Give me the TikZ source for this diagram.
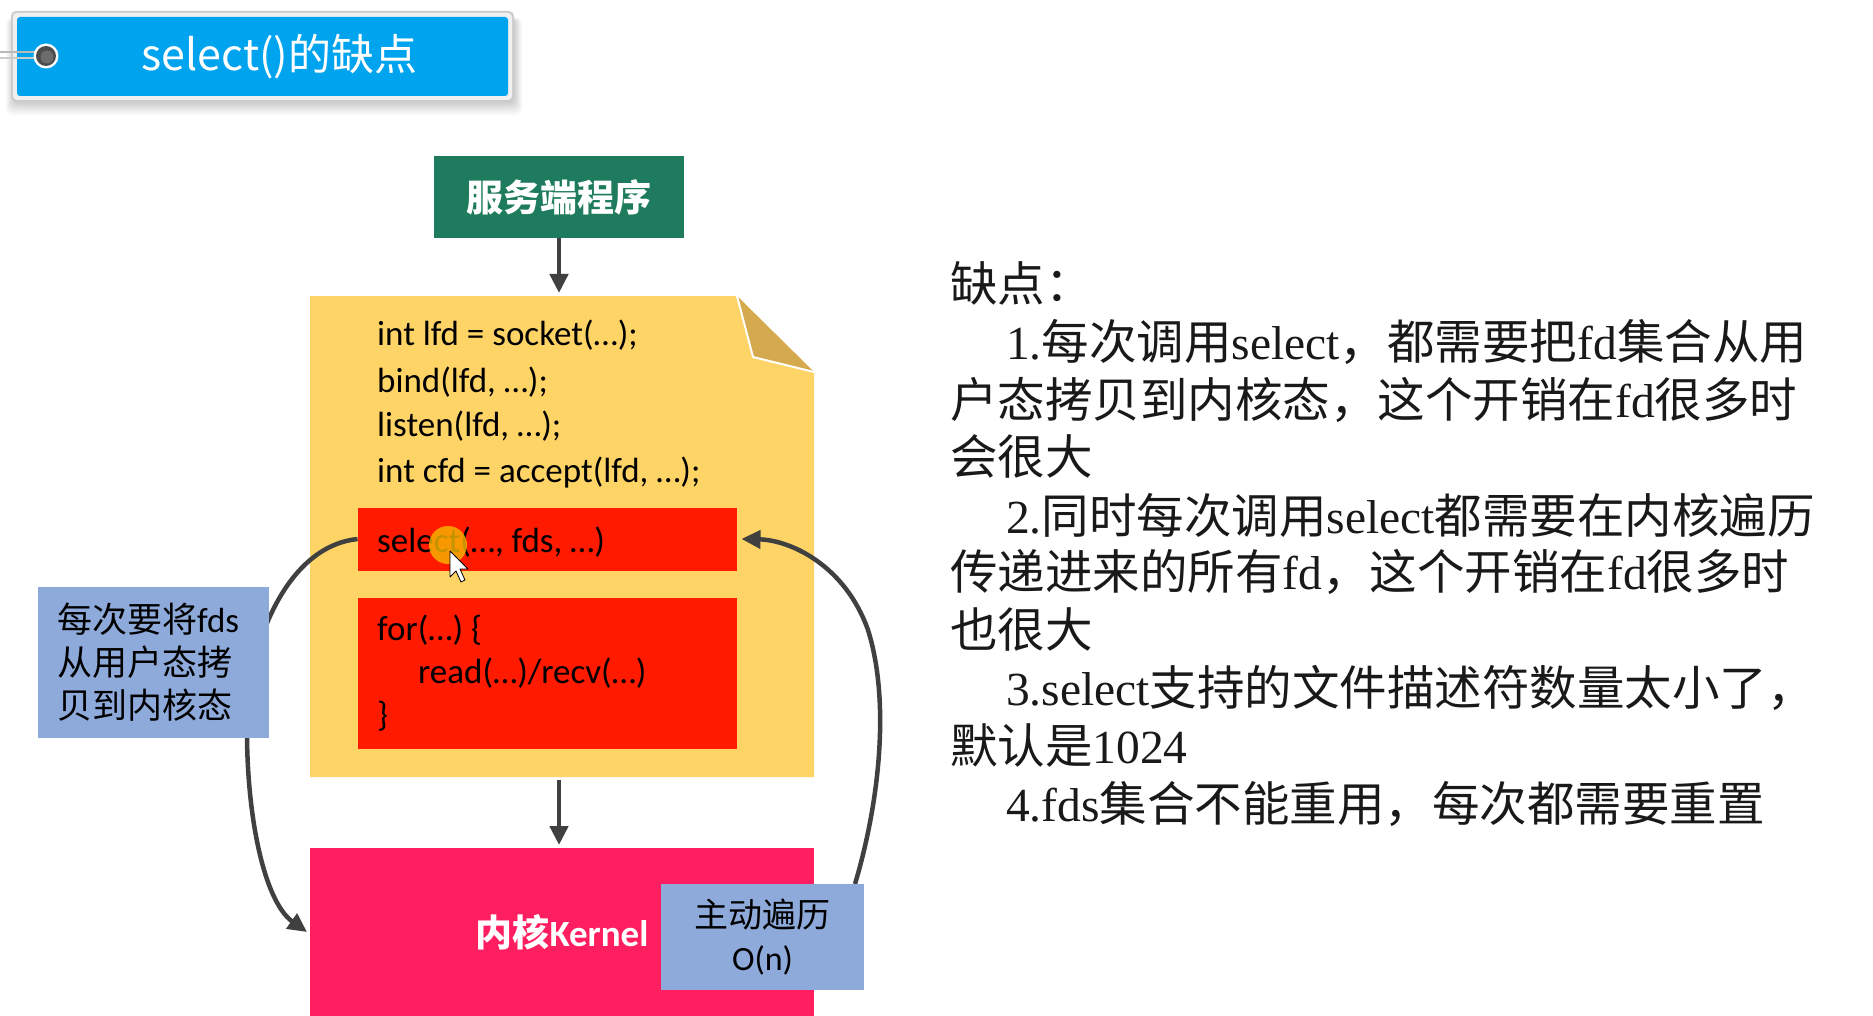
\documentclass[tikz,border=0pt]{standalone}
\usepackage{fontspec}
\setmainfont{Liberation Serif}
\newfontfamily\zh{Noto Sans CJK SC}
\newfontfamily\calib{Carlito}
\usetikzlibrary{arrows.meta}
\definecolor{tblue}{HTML}{00A3EE}
\definecolor{sgreen}{HTML}{1E7B5E}
\definecolor{dyellow}{HTML}{FFD466}
\definecolor{dfold}{HTML}{D5A94E}
\definecolor{cred}{HTML}{FF1A00}
\definecolor{kpink}{HTML}{FF1F60}
\definecolor{lblue}{HTML}{8EAADB}
\definecolor{arr}{HTML}{404040}
\definecolor{hilite}{HTML}{F5B800}
\begin{document}
\begin{tikzpicture}[x=1pt,y=-1pt,
  box/.style={rectangle,inner sep=0pt,outer sep=0pt},
  code/.style={anchor=west,inner sep=0pt,font=\calib\fontsize{35}{42}\selectfont},
  rt/.style={anchor=west,inner sep=0pt,text=black!90,font=\fontsize{47.5}{58}\selectfont},
  conn/.style={draw=arr,line width=4.5pt,-{Triangle[length=19pt,width=18pt]}},
]
\useasboundingbox (0,0) rectangle (1873,1016);
\fill[white] (0,0) rectangle (1873,1016);

% title tag with shadow
\foreach \i in {1,...,8}{
  \fill[black,opacity=0.025,rounded corners=6pt] (14-\i,18) rectangle (514+\i,102+1.6*\i);
}
\fill[gray!40,rounded corners=5pt] (11,11) rectangle (514,102);
\fill[gray!12,rounded corners=4pt] (13,13) rectangle (512,100);
\node[box,fill=tblue,minimum width=491pt,minimum height=79pt,rounded corners=3pt] (title) at (262.5,56.5) {};
\node[text=white,inner sep=0pt,font=\zh\fontsize{43}{50}\selectfont] (ttext) at ([xshift=17pt]title.center) {select()的缺点};
\draw[gray!55,line width=2pt] (0,52) -- (46,52);
\draw[gray!40,line width=2pt] (0,58) -- (46,58);
\fill[white] (46,56) circle (12.5);
\fill[gray!60!black] (46,56) circle (10);
\fill[gray!85!black] (47,57) circle (6.5);

% server program
\node[box,fill=sgreen,minimum width=250pt,minimum height=82pt,text=white,
      font=\zh\bfseries\fontsize{37}{44}\selectfont] (server) at (559,197) {服务端程序};

% yellow document
\fill[dyellow] (310,296) -- (737,296) -- (814,372) -- (814,777) -- (310,777) -- cycle;
\node[box,minimum width=504pt,minimum height=481pt] (doc) at (562,536.5) {};
\fill[dfold] (737,296) -- (753,357) -- (814,372) -- cycle;
\draw[white,line width=2pt,line join=round] (737,296) -- (753,357) -- (814,372);

\node[code] (c1) at (377,335) {int lfd = socket(…);};
\node[code] (c2) at (377,382) {bind(lfd, …);};
\node[code] (c3) at (377,426) {listen(lfd, …);};
\node[code] (c4) at (377,473) {int cfd = accept(lfd, …);};

\node[box,fill=cred,minimum width=379pt,minimum height=63pt] (red1) at (547,539) {};
\node[code] (s1) at (377,542) {select(…, fds, …)};
\node[box,fill=cred,minimum width=379pt,minimum height=151pt] (red2) at (547,673) {};
\node[code] (f1) at (377,630) {for(…) \{};
\node[code] (f2) at (418,673) {read(…)/recv(…)};
\node[code] (f3) at (377,716) {\}};

% cursor highlight
\fill[hilite,opacity=0.8] (448,545) circle (19);
\filldraw[fill=white,draw=black,line width=0.8pt,line join=round]
  (450,551) -- (450,577) -- (456,571) -- (461,582) -- (465,580) -- (460,569) -- (468,569) -- cycle;

% kernel
\node[box,fill=kpink,minimum width=504pt,minimum height=168pt,text=white,
      font=\bfseries\fontsize{37}{44}\selectfont] (kernel) at (562,932) {{\zh 内核}{\calib Kernel}};

% vertical arrows
\draw[conn,shorten >=3pt] (server.south) -- (server.south |- doc.north);
\draw[conn,shorten <=3pt,shorten >=3pt] (server.south |- doc.south) -- (server.south |- kernel.north);

% curved connectors
\draw[conn] (red1.west) .. controls (300,545) and (262,610) .. (248,690)
            .. controls (242,800) and (262,900) .. ([xshift=-3pt]kernel.west);
\coordinate (rstart) at (855,884);
\draw[conn] (rstart) .. controls (880,800) and (890,700) .. (868,630)
            .. controls (845,565) and (790,540) .. ([xshift=5pt]red1.east);

% blue labels
\node[box,fill=lblue,minimum width=231pt,minimum height=151pt] (bL) at (153.5,662.5) {};
\node[anchor=west,inner sep=0pt,align=left,font=\fontsize{35}{43}\selectfont] (bLt) at (57,662.5)
      {{\zh 每次要将}{\calib fds}\\{\zh 从用户态拷}\\{\zh 贝到内核态}};
\node[box,fill=lblue,minimum width=203pt,minimum height=106pt,align=center,
      font=\fontsize{34}{43}\selectfont] (bR) at (762.5,937)
      {{\zh 主动遍历}\\{\calib O(n)}};

% right text
\node[rt] (t0) at (950,283) {{\zh 缺点：}};
\node[rt] (t1) at (1006,342) {1.{\zh 每次调用}select{\zh ，都需要把}fd{\zh 集合从用}};
\node[rt] (t2) at (950,400) {{\zh 户态拷贝到内核态，这个开销在}fd{\zh 很多时}};
\node[rt] (t3) at (950,456) {{\zh 会很大}};
\node[rt] (t4) at (1006,515) {2.{\zh 同时每次调用}select{\zh 都需要在内核遍历}};
\node[rt] (t5) at (950,572) {{\zh 传递进来的所有}fd{\zh ，这个开销在}fd{\zh 很多时}};
\node[rt] (t6) at (950,629) {{\zh 也很大}};
\node[rt] (t7) at (1006,688) {3.select{\zh 支持的文件描述符数量太小了，}};
\node[rt] (t8) at (950,745) {{\zh 默认是}1024};
\node[rt] (t9) at (1006,804) {4.fds{\zh 集合不能重用，每次都需要重置}};
\end{tikzpicture}
\end{document}
